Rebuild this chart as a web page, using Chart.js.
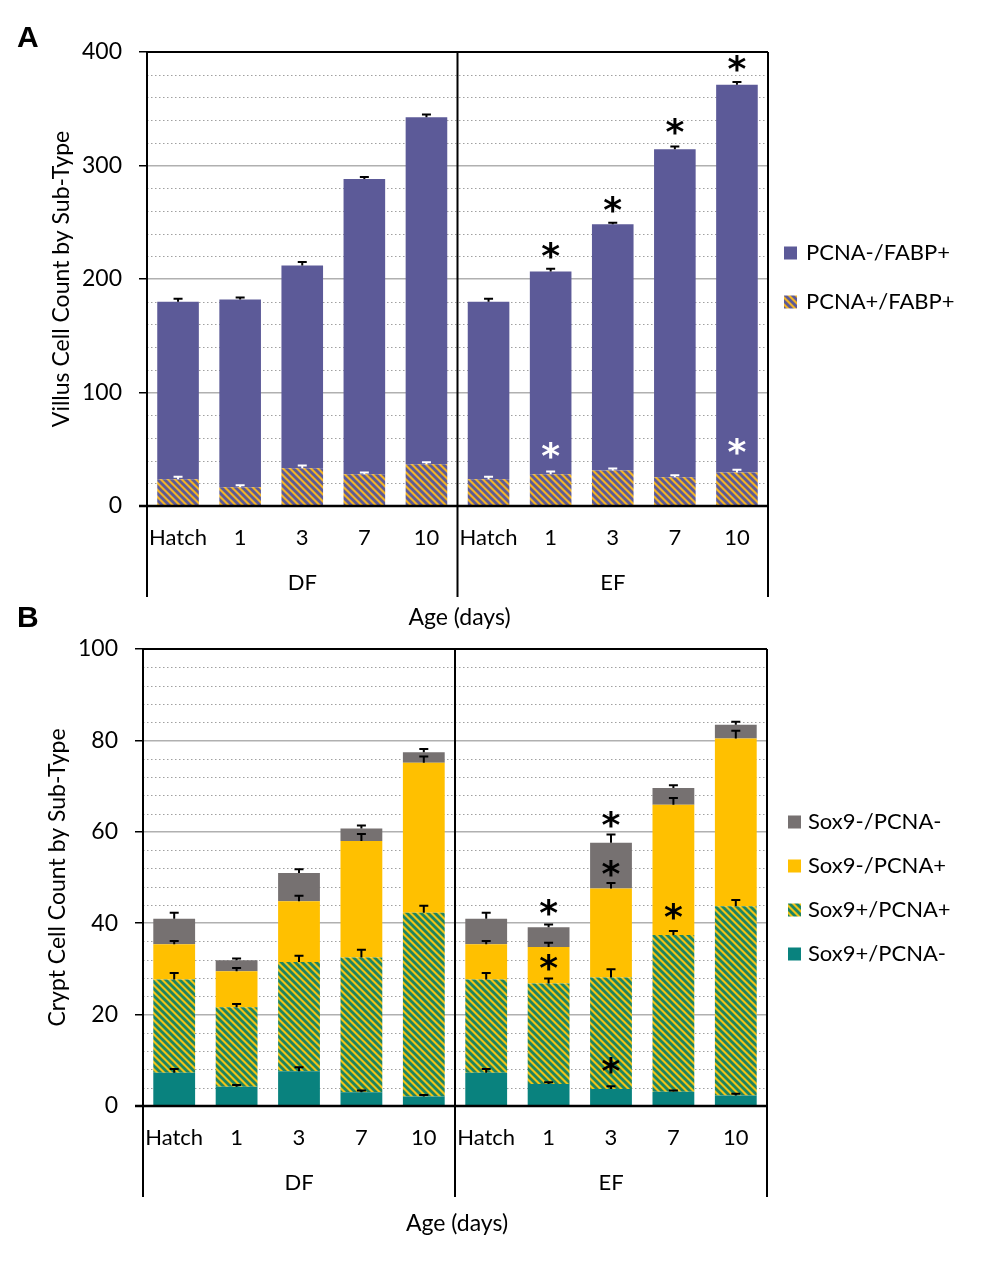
<!DOCTYPE html>
<html>
<head>
<meta charset="utf-8">
<script src="https://cdn.jsdelivr.net/npm/chart.js@4.4.0/dist/chart.umd.min.js"></script>
<style>
html,body{margin:0;padding:0;background:#fff;}
#wrap{position:relative;width:983px;height:1262px;overflow:hidden;background:#fff;}
canvas{position:absolute;left:0;}
#cA{top:0;width:983px;height:640px;}
#cB{top:590px;width:983px;height:672px;}
</style>
</head>
<body>
<div id="wrap">
<canvas id="cA" width="983" height="640"></canvas>
<canvas id="cB" width="983" height="672"></canvas>
</div>
<script>
// ---------- shared categories ----------
const ageLabels = ['Hatch','1','3','7','10','Hatch','1','3','7','10'];
const dietGroups = ['DF','EF'];
const xTitle = 'Age (days)';

// ---------- Panel A : villus ----------
const villusPcnaPosFabpPos = [23.5,16.5,33.3,28.0,36.8, 23.5,28.0,31.2,25.3,29.5];
const villusPcnaNegFabpPos = [156.5,165.5,178.7,260.0,305.8, 156.5,178.6,217.1,289.1,341.7];
const villusErrPos = [2.2,1.8,2.4,1.5,1.8, 2.2,2.4,1.8,1.8,2.4];
const villusErrNeg = [2.6,1.8,2.9,1.8,2.4, 2.6,2.4,1.2,2.4,2.4];
const villusStarAboveIdx = [6,7,8,9];
const villusStarAboveVal = [225,266,334,390];
const villusStarInsideIdx = [6,9];
const villusStarInsideVal = [49,52];

// ---------- Panel B : crypt ----------
const cryptSox9PosPcnaNeg = [7.3,4.2,7.6,3.0,2.1, 7.3,4.8,3.7,3.1,2.3];
const cryptSox9PosPcnaPos = [20.4,17.4,23.9,29.5,40.2, 20.4,22.0,24.4,34.3,41.4];
const cryptSox9NegPcnaPos = [7.7,7.9,13.3,25.5,32.8, 7.7,8.0,19.5,28.5,36.7];
const cryptSox9NegPcnaNeg = [5.6,2.4,6.2,2.7,2.3, 5.6,4.3,10.0,3.7,3.0];
const cryptErrSox9PosPcnaNeg = [0.8,0.4,0.9,0.4,0.3, 0.8,0.4,0.6,0.3,0.4];
const cryptErrSox9PosPcnaPos = [1.4,0.7,1.4,1.7,1.5, 1.4,1.1,1.8,0.9,1.4];
const cryptErrSox9NegPcnaPos = [0.7,0.7,1.2,1.5,1.4, 0.7,0.9,1.2,1.5,1.7];
const cryptErrSox9NegPcnaNeg = [1.3,0.4,0.8,0.7,0.7, 1.3,0.6,1.8,0.6,0.7];
const cryptStarIdx = [6,6,7,7,7,8];
const cryptStarVal = [43.4,31.3,62.7,51.9,8.8,42.5];

// ---------- styling helpers ----------
const FONT = 'Lato, "Open Sans", sans-serif';
function stripes(bg, fg, s, w){
  const c = document.createElement('canvas'); c.width = s; c.height = s;
  const g = c.getContext('2d');
  g.fillStyle = bg; g.fillRect(0,0,s,s);
  g.strokeStyle = fg; g.lineWidth = w; g.lineCap = 'square';
  for (let k=-1;k<=1;k++){ g.beginPath(); g.moveTo(k*s-1,-1); g.lineTo(k*s+s+1,s+1); g.stroke(); }
  return g.createPattern(c,'repeat');
}
const PURPLE = '#5C5A98';
const hatchA = stripes('#F2B426', PURPLE, 7, 2.8);
const hatchB = stripes('#F0C417', '#1E8460', 7, 2.8);

function drawStar(ctx, x, y, color){
  ctx.save();
  ctx.font = 'bold 36px "DejaVu Sans"';
  const m = ctx.measureText('*');
  const A = m.actualBoundingBoxAscent, D = m.actualBoundingBoxDescent;
  ctx.fillStyle = color; ctx.textAlign = 'center'; ctx.textBaseline = 'alphabetic';
  ctx.fillText('*', x, y + (A - D) / 2);
  ctx.restore();
}

function overlay(cfg){
  return {
    id: 'overlay',
    beforeDatasetsDraw(chart){
      const ctx = chart.ctx, ca = chart.chartArea, ys = chart.scales.y;
      ctx.save();
      ctx.strokeStyle = '#a0a0a0'; ctx.lineWidth = 1; ctx.setLineDash([1.5,2.5]);
      for (let v = cfg.minor; v < cfg.max - 1e-9; v += cfg.minor){
        const r = v / cfg.major;
        if (Math.abs(r - Math.round(r)) < 1e-6) continue;
        const py = Math.round(ys.getPixelForValue(v)) + 0.5;
        ctx.beginPath(); ctx.moveTo(ca.left, py); ctx.lineTo(ca.right, py); ctx.stroke();
      }
      ctx.restore();
    },
    afterDatasetsDraw(chart){
      const ctx = chart.ctx, ca = chart.chartArea, ys = chart.scales.y, xs = chart.scales.x;
      const ds = chart.data.datasets;
      // error bars
      ctx.save();
      ctx.lineWidth = 2;
      const n = chart.data.labels.length;
      for (let i=0;i<n;i++){
        let cum = 0;
        ds.forEach((d, di) => {
          cum += d.data[i];
          if (!d.err) return;
          const x = chart.getDatasetMeta(di).data[i].x;
          const y0 = ys.getPixelForValue(cum), y1 = ys.getPixelForValue(cum + d.err[i]);
          ctx.strokeStyle = d.errColor || '#000';
          ctx.beginPath(); ctx.moveTo(x, y0); ctx.lineTo(x, y1);
          ctx.moveTo(x-4.5, y1); ctx.lineTo(x+4.5, y1); ctx.stroke();
        });
      }
      ctx.restore();
      // stars
      cfg.stars.forEach(s => {
        s.idx.forEach((ix, k) => {
          drawStar(ctx, xs.getPixelForValue(ix), ys.getPixelForValue(s.val[k]), s.color);
        });
      });
      // frame
      ctx.save();
      ctx.strokeStyle = '#000';
      ctx.lineWidth = 2;
      const mid = (ca.left + ca.right)/2;
      const low = ca.bottom + cfg.sepDepth;
      ctx.beginPath();
      ctx.moveTo(ca.left, ca.top); ctx.lineTo(ca.right, ca.top);
      ctx.moveTo(ca.left, ca.top); ctx.lineTo(ca.left, low);
      ctx.moveTo(ca.right, ca.top); ctx.lineTo(ca.right, low);
      ctx.moveTo(mid, ca.top); ctx.lineTo(mid, low);
      ctx.stroke();
      ctx.lineWidth = 2.5;
      ctx.beginPath(); ctx.moveTo(ca.left - 8, ca.bottom); ctx.lineTo(ca.right, ca.bottom); ctx.stroke();
      // group labels
      ctx.fillStyle = '#000';
      ctx.font = '22px ' + FONT;
      ctx.textAlign = 'center'; ctx.textBaseline = 'middle';
      dietGroups.forEach((g, gi) => {
        const gx = ca.left + (ca.right - ca.left) * (gi*2+1)/4;
        ctx.fillText(g, gx, ca.bottom + 77);
      });
      ctx.font = '23px ' + FONT;
      ctx.fillText(xTitle, mid + 2, ca.bottom + cfg.titleDepth);
      // panel letter
      ctx.font = 'bold 30px "Liberation Sans", Arial, sans-serif';
      ctx.textAlign = 'left'; ctx.textBaseline = 'alphabetic';
      ctx.fillText(cfg.letter, 17, cfg.letterBase);
      // legend
      ctx.font = '22px ' + FONT;
      ctx.textBaseline = 'middle';
      const items = ds.slice().reverse();
      items.forEach((d, k) => {
        const cy = cfg.legY + k*cfg.legGap;
        ctx.fillStyle = d.backgroundColor;
        ctx.fillRect(cfg.legX, cy - 6.5, 13, 13);
        ctx.fillStyle = '#000';
        ctx.fillText(d.label, cfg.legTextX, cy);
      });
      ctx.restore();
    }
  };
}

function makeChart(id, datasets, yMax, yStep, yTitle, titlePad, leftW, topPad, xH, cfg){
  return new Chart(document.getElementById(id), {
    type: 'bar',
    data: { labels: ageLabels, datasets },
    options: {
      responsive: false, animation: false,
      layout: { padding: { left: 0, top: topPad, right: 983 - cfg.right, bottom: 0 } },
      plugins: { legend: { display: false }, tooltip: { enabled: false } },
      datasets: { bar: { barPercentage: 0.67, categoryPercentage: 1.0, borderWidth: 0 } },
      scales: {
        x: {
          stacked: true,
          grid: { display: false, drawTicks: false },
          border: { display: false },
          ticks: { color: '#000', font: { family: FONT, size: 22 }, padding: 18.5, maxRotation: 0, minRotation: 0, autoSkip: false },
          afterFit: s => { s.height = xH; }
        },
        y: {
          stacked: true, min: 0, max: yMax,
          grid: { color: '#b0b0b0', lineWidth: 1.5, drawTicks: true, tickLength: 8, tickColor: '#000', tickWidth: 1.5 },
          border: { display: false },
          ticks: { stepSize: yStep, color: '#000', font: { family: FONT, size: 23 }, padding: 17 },
          title: { display: true, text: yTitle, color: '#000', font: { family: FONT, size: 23 }, padding: { top: titlePad, bottom: 0 } },
          afterFit: s => { s.width = leftW; }
        }
      }
    },
    plugins: [overlay(cfg)]
  });
}

// Panel A
makeChart('cA', [
  { label: 'PCNA+/FABP+', data: villusPcnaPosFabpPos, backgroundColor: hatchA, err: villusErrPos, errColor: '#fff' },
  { label: 'PCNA-/FABP+', data: villusPcnaNegFabpPos, backgroundColor: PURPLE, err: villusErrNeg, errColor: '#000' }
], 400, 100, 'Villus Cell Count by Sub-Type', 48.2, 147, 52, 134, {
  right: 768, max: 400, major: 100, minor: 20, sepDepth: 91, titleDepth: 112,
  letter: 'A', letterBase: 47, legX: 784, legTextX: 806, legY: 253, legGap: 49,
  stars: [
    { idx: villusStarAboveIdx, val: villusStarAboveVal, color: '#000' },
    { idx: villusStarInsideIdx, val: villusStarInsideVal, color: '#fff' }
  ]
});

// Panel B
makeChart('cB', [
  { label: 'Sox9+/PCNA-', data: cryptSox9PosPcnaNeg, backgroundColor: '#09827E', err: cryptErrSox9PosPcnaNeg },
  { label: 'Sox9+/PCNA+', data: cryptSox9PosPcnaPos, backgroundColor: hatchB, err: cryptErrSox9PosPcnaPos },
  { label: 'Sox9-/PCNA+', data: cryptSox9NegPcnaPos, backgroundColor: '#FFC000', err: cryptErrSox9NegPcnaPos },
  { label: 'Sox9-/PCNA-', data: cryptSox9NegPcnaNeg, backgroundColor: '#767171', err: cryptErrSox9NegPcnaNeg }
], 100, 20, 'Crypt Cell Count by Sub-Type', 44.2, 143, 59, 156, {
  right: 767, max: 100, major: 20, minor: 4, sepDepth: 91, titleDepth: 118,
  letter: 'B', letterBase: 37, legX: 788, legTextX: 808, legY: 232, legGap: 44,
  stars: [
    { idx: cryptStarIdx, val: cryptStarVal, color: '#000' }
  ]
});
</script>
</body>
</html>
